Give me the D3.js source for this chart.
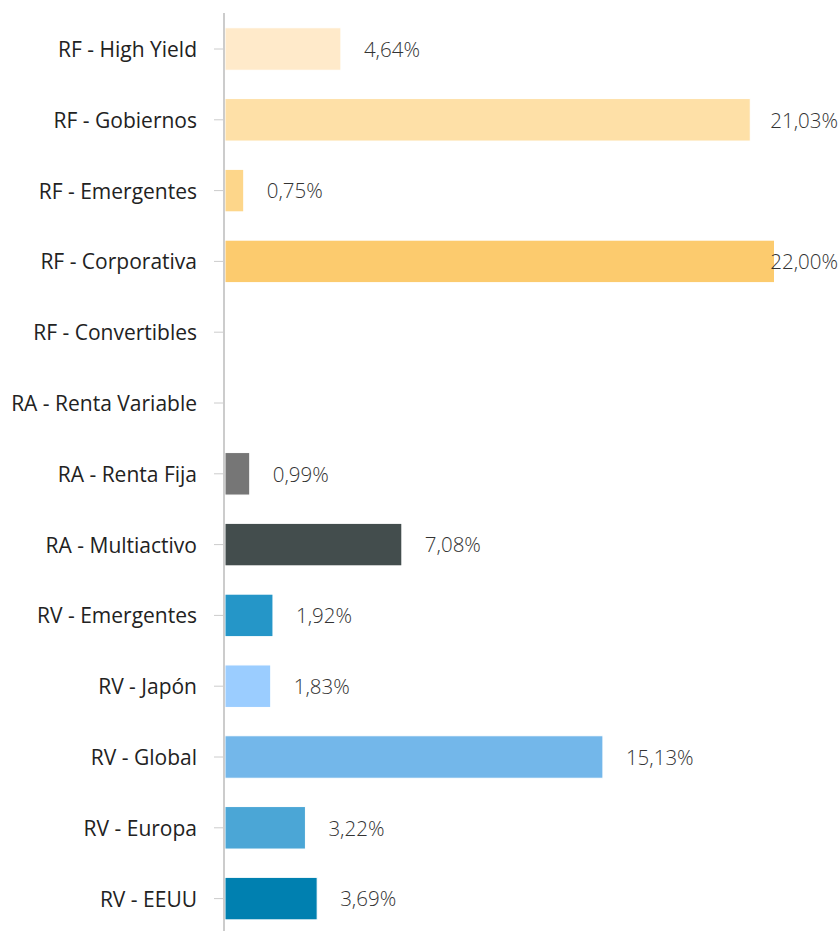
<!DOCTYPE html>
<html>
<head>
<meta charset="utf-8">
<script src="https://cdn.jsdelivr.net/npm/d3@7"></script>
<style>
  html, body { margin: 0; padding: 0; background: #fff; }
  svg { display: block; }
</style>
</head>
<body>
<svg id="chart" width="840" height="931"></svg>
<script>
// Asset class allocation (%)
const categories = [
  "RF - High Yield", "RF - Gobiernos", "RF - Emergentes", "RF - Corporativa",
  "RF - Convertibles", "RA - Renta Variable", "RA - Renta Fija", "RA - Multiactivo",
  "RV - Emergentes", "RV - Japón", "RV - Global", "RV - Europa", "RV - EEUU"
];
const values = [4.64, 21.03, 0.75, 22.00, null, null, 0.99, 7.08, 1.92, 1.83, 15.13, 3.22, 3.69];
const colors = [
  "#FFEACA", "#FEE0A7", "#FDD68A", "#FCCB6E", "#FCCB6E", "#767676", "#767676", "#434D4D",
  "#2596C8", "#9BCDFF", "#73B7EA", "#4BA6D6", "#0080B0"
];
const xDomain = [0, 22];

const width = 840, height = 931;
const axisX = 224, plotRight = 774.5, plotTop = 13.6, plotBottom = 934;
const fontFamily = "'Open Sans', 'Noto Sans', sans-serif";

const svg = d3.select("#chart");

const x = d3.scaleLinear().domain(xDomain).range([axisX + 1, plotRight]);
const y = d3.scaleBand().domain(categories).range([plotTop, plotBottom])
  .paddingInner(0.4).paddingOuter(0.2);

const data = categories.map((c, i) => ({ cat: c, value: values[i], color: colors[i] }));

// Bars
svg.append("g").selectAll("rect")
  .data(data.filter(d => d.value != null))
  .join("rect")
  .attr("x", x(0))
  .attr("y", d => y(d.cat))
  .attr("width", d => x(d.value) - x(0))
  .attr("height", y.bandwidth())
  .attr("fill", d => d.color)
  .attr("stroke", "#ffffff")
  .attr("stroke-width", 1);

// Category axis
const axis = d3.axisLeft(y).tickSize(10).tickPadding(17);
const gAxis = svg.append("g")
  .attr("transform", `translate(${axisX},0)`)
  .call(axis);
gAxis.select(".domain").remove();
gAxis.selectAll(".tick line").attr("stroke", "#cccccc").attr("stroke-width", 1);
gAxis.selectAll(".tick text")
  .attr("fill", "#222222")
  .attr("dy", "0.38em")
  .style("font-family", fontFamily)
  .style("font-size", "21px");
gAxis.append("line")
  .attr("x1", 0).attr("x2", 0)
  .attr("y1", 13).attr("y2", height)
  .attr("stroke", "#cccccc").attr("stroke-width", 2);

// Value labels, kept inside the chart's right edge
const fmt = v => v.toFixed(2).replace(".", ",") + "%";
svg.append("g").selectAll("text")
  .data(data.filter(d => d.value != null))
  .join("text")
  .attr("y", d => y(d.cat) + y.bandwidth() / 2)
  .attr("dy", "0.38em")
  .attr("fill", "#333333")
  .style("font-family", fontFamily)
  .style("font-weight", 300)
  .style("font-size", "20.5px")
  .text(d => fmt(d.value))
  .each(function(d) {
    const w = this.getComputedTextLength();
    let px = x(d.value) + 23;
    if (px + w > width - 2) px = width - 2 - w;
    d3.select(this).attr("x", px);
  });
</script>
</body>
</html>
